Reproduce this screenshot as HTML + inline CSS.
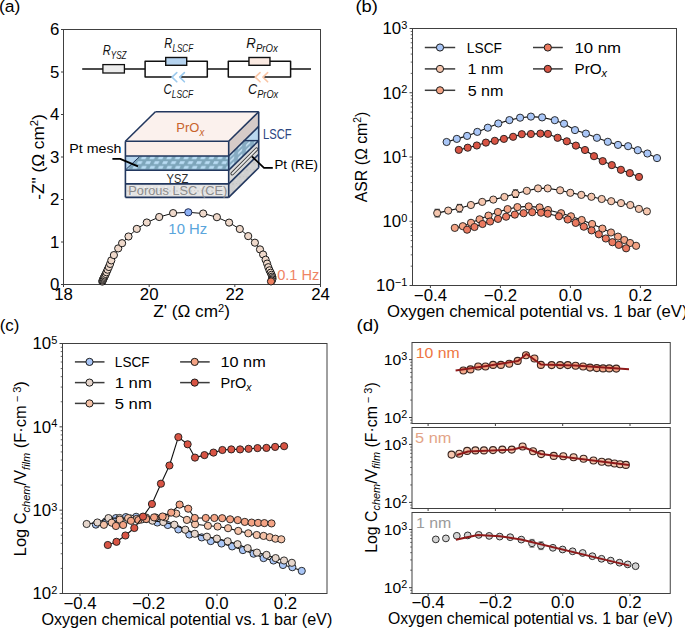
<!DOCTYPE html>
<html><head><meta charset="utf-8"><style>
html,body{margin:0;padding:0;background:#fff;overflow:hidden;}
svg{display:block;font-family:"Liberation Sans", sans-serif;}
</style></head><body>
<svg width="685" height="628" viewBox="0 0 685 628">
<rect width="685" height="628" fill="#fff"/>
<text id="pa" transform="translate(-1.06,12.3) scale(1.0618,1)" font-size="16.5" text-anchor="start" fill="#000">(a)</text>
<rect x="63.5" y="29.5" width="257" height="255" fill="none" stroke="#404040" stroke-width="1.0" />
<line x1="61" y1="284.5" x2="63.5" y2="284.5" stroke="#404040" stroke-width="1.0" />
<text id="ya0" transform="translate(59.3,290.4) scale(1.0200,1)" font-size="16.5" text-anchor="end" fill="#000">0</text>
<line x1="61" y1="242" x2="63.5" y2="242" stroke="#404040" stroke-width="1.0" />
<text id="ya1" transform="translate(59.3,247.9) scale(1.0200,1)" font-size="16.5" text-anchor="end" fill="#000">1</text>
<line x1="61" y1="199.5" x2="63.5" y2="199.5" stroke="#404040" stroke-width="1.0" />
<text id="ya2" transform="translate(59.3,205.4) scale(1.0200,1)" font-size="16.5" text-anchor="end" fill="#000">2</text>
<line x1="61" y1="157" x2="63.5" y2="157" stroke="#404040" stroke-width="1.0" />
<text id="ya3" transform="translate(59.3,162.9) scale(1.0200,1)" font-size="16.5" text-anchor="end" fill="#000">3</text>
<line x1="61" y1="114.5" x2="63.5" y2="114.5" stroke="#404040" stroke-width="1.0" />
<text id="ya4" transform="translate(59.3,120.4) scale(1.0200,1)" font-size="16.5" text-anchor="end" fill="#000">4</text>
<line x1="61" y1="72" x2="63.5" y2="72" stroke="#404040" stroke-width="1.0" />
<text id="ya5" transform="translate(59.3,77.9) scale(1.0200,1)" font-size="16.5" text-anchor="end" fill="#000">5</text>
<line x1="61" y1="29.5" x2="63.5" y2="29.5" stroke="#404040" stroke-width="1.0" />
<text id="ya6" transform="translate(59.3,35.4) scale(1.0200,1)" font-size="16.5" text-anchor="end" fill="#000">6</text>
<line x1="63.5" y1="284.5" x2="63.5" y2="287" stroke="#404040" stroke-width="1.0" />
<text id="xa18" transform="translate(63.5,299.9) scale(1.0200,1)" font-size="16.5" text-anchor="middle" fill="#000">18</text>
<line x1="149.17" y1="284.5" x2="149.17" y2="287" stroke="#404040" stroke-width="1.0" />
<text id="xa20" transform="translate(149.17,299.9) scale(1.0200,1)" font-size="16.5" text-anchor="middle" fill="#000">20</text>
<line x1="234.83" y1="284.5" x2="234.83" y2="287" stroke="#404040" stroke-width="1.0" />
<text id="xa22" transform="translate(234.83,299.9) scale(1.0200,1)" font-size="16.5" text-anchor="middle" fill="#000">22</text>
<line x1="320.5" y1="284.5" x2="320.5" y2="287" stroke="#404040" stroke-width="1.0" />
<text id="xa24" transform="translate(320.5,299.9) scale(1.0200,1)" font-size="16.5" text-anchor="middle" fill="#000">24</text>
<text id="ylab_a" transform="translate(43.8,157) rotate(-90) scale(1.0627,1)" font-size="16.2" text-anchor="middle" fill="#000">-Z" (Ω cm<tspan font-size="10.5" dy="-5.5">2</tspan><tspan dy="5.5">)</tspan></text>
<text id="xlab_a" transform="translate(191.52,317.2) scale(1.0606,1)" font-size="16.2" text-anchor="middle" fill="#000">Z' (Ω cm<tspan font-size="10.5" dy="-5.5">2</tspan><tspan dy="5.5">)</tspan></text>
<line x1="82.2" y1="69" x2="145.1" y2="69" stroke="#111" stroke-width="1.5" />
<rect x="102.9" y="64.6" width="21.5" height="8.4" fill="#ececec" stroke="#111" stroke-width="1.3" />
<polyline points="145.1,69 145.1,61.3 207.3,61.3 207.3,69" fill="none" stroke="#111" stroke-width="1.5" stroke-linejoin="round" />
<polyline points="145.1,69 145.1,76.9 172,76.9" fill="none" stroke="#111" stroke-width="1.5" stroke-linejoin="round" />
<polyline points="179.7,76.9 207.3,76.9 207.3,69" fill="none" stroke="#111" stroke-width="1.5" stroke-linejoin="round" />
<rect x="165.7" y="57.5" width="21" height="7.8" fill="#b5d3ef" stroke="#111" stroke-width="1.4" />
<polyline points="176.8,72.6 172,77.1 176.8,81.8" fill="none" stroke="#9ccaee" stroke-width="1.6" stroke-linejoin="round" stroke-linecap="round"/>
<polyline points="184.4,72.6 179.7,77.1 184.4,81.8" fill="none" stroke="#9ccaee" stroke-width="1.6" stroke-linejoin="round" stroke-linecap="round"/>
<polyline points="228.3,69 228.3,61.3 290.6,61.3 290.6,69" fill="none" stroke="#111" stroke-width="1.5" stroke-linejoin="round" />
<polyline points="228.3,69 228.3,76.9 255.25,76.9" fill="none" stroke="#111" stroke-width="1.5" stroke-linejoin="round" />
<polyline points="262.95,76.9 290.6,76.9 290.6,69" fill="none" stroke="#111" stroke-width="1.5" stroke-linejoin="round" />
<rect x="248.95" y="57.5" width="21" height="7.8" fill="#fbeae2" stroke="#111" stroke-width="1.4" />
<polyline points="260.05,72.6 255.25,77.1 260.05,81.8" fill="none" stroke="#f9c5a5" stroke-width="1.6" stroke-linejoin="round" stroke-linecap="round"/>
<polyline points="267.65,72.6 262.95,77.1 267.65,81.8" fill="none" stroke="#f9c5a5" stroke-width="1.6" stroke-linejoin="round" stroke-linecap="round"/>
<line x1="207.3" y1="69" x2="228.3" y2="69" stroke="#111" stroke-width="1.5" />
<line x1="290.6" y1="69" x2="311" y2="69" stroke="#111" stroke-width="1.5" />
<text id="rysz" transform="translate(102.76,54.6) scale(0.7948,1)" font-size="14" text-anchor="start" fill="#111" style="font-style:italic">R<tspan font-size="10.2" dy="4.4">YSZ</tspan></text>
<text id="rlscf" transform="translate(164.35,47.6) scale(0.7954,1)" font-size="14" text-anchor="start" fill="#111" style="font-style:italic">R<tspan font-size="10.2" dy="4.4">LSCF</tspan></text>
<text id="rprox" transform="translate(246.36,48) scale(0.9443,1)" font-size="14" text-anchor="start" fill="#111" style="font-style:italic">R<tspan font-size="10.2" dy="4.4">PrOx</tspan></text>
<text id="clscf" transform="translate(163.45,93.9) scale(0.8234,1)" font-size="14" text-anchor="start" fill="#111" style="font-style:italic">C<tspan font-size="10.2" dy="4.4">LSCF</tspan></text>
<text id="cprox" transform="translate(248,93.9) scale(0.9073,1)" font-size="14" text-anchor="start" fill="#111" style="font-style:italic">C<tspan font-size="10.2" dy="4.4">PrOx</tspan></text>
<defs><pattern id="hatch" patternUnits="userSpaceOnUse" width="8.47" height="9.5" patternTransform="translate(148.07,156.2)"><rect width="8.47" height="9.5" fill="#7da5ba"/><path d="M1.23,3 L5.83,3 L7.23,0.2 L2.63,0.2 Z M-3,7.8 L1.6,7.8 L3,4.9 L-1.6,4.9 Z M5.47,7.8 L10.07,7.8 L11.47,4.9 L6.87,4.9 Z" fill="#b9dcf4"/></pattern><pattern id="speck" patternUnits="userSpaceOnUse" width="7" height="7"><rect width="7" height="7" fill="#e4e4e4"/><circle cx="2" cy="2" r="1" fill="#d2d2d2"/><circle cx="5" cy="5.2" r="0.9" fill="#f3f3f3"/><circle cx="5.5" cy="1.5" r="0.6" fill="#cfcfcf"/></pattern></defs>
<polygon points="125.4,141.3 155.4,111.70000000000002 258.7,111.70000000000002 228.7,141.3" fill="#fbf1ed"/>
<rect x="125.4" y="141.3" width="103.3" height="14.7" fill="#fbeee9" stroke="none" stroke-width="1" />
<rect x="125.4" y="156" width="103.3" height="14.2" fill="url(#hatch)" stroke="none" stroke-width="1" />
<polygon points="125.4,156.0 139.4,156.0 125.4,170.2" fill="#b6d5ee"/>
<line x1="126.2" y1="169.2" x2="139.2" y2="157" stroke="#22375e" stroke-width="1.0" />
<rect x="125.4" y="170.2" width="103.3" height="13.7" fill="#ffffff" stroke="none" stroke-width="1" />
<rect x="125.4" y="183.9" width="103.3" height="13.5" fill="url(#speck)" stroke="none" stroke-width="1" />
<polygon points="228.7,141.3 258.7,111.70000000000002 258.7,126.4 228.7,156.0" fill="#d6cbc8"/>
<polygon points="228.7,156.0 258.7,126.4 258.7,140.6 228.7,170.2" fill="#b9d7ee"/>
<defs><pattern id="hatchs" patternUnits="userSpaceOnUse" width="8" height="5" patternTransform="translate(229,170) skewY(-44)"><rect width="8" height="5" fill="#86abc2"/><rect x="1" y="1.2" width="4.2" height="2.2" fill="#c6e0f2"/></pattern></defs>
<polygon points="228.7,156.0 243.6,140.6 258.7,140.6 228.7,170.2" fill="url(#hatchs)"/>
<line x1="243.6" y1="140.6" x2="258.7" y2="140.6" stroke="#22375e" stroke-width="1.4" />
<polygon points="228.7,170.2 258.7,140.6 258.7,154.3 228.7,183.9" fill="#dadada"/>
<polygon points="228.7,183.9 258.7,154.3 258.7,167.8 228.7,197.4" fill="url(#speck)"/>
<polygon points="228.7,183.9 258.7,154.3 258.7,167.8 228.7,197.4" fill="#b8b8b8" opacity="0.45"/>
<line x1="232.3" y1="173.6" x2="256.6" y2="149.2" stroke="#3a3a3a" stroke-width="3.6" stroke-linecap="round"/>
<line x1="232.3" y1="173.6" x2="256.6" y2="149.2" stroke="#e8e8e8" stroke-width="1.8" stroke-linecap="round"/>
<line x1="125.4" y1="141.3" x2="228.7" y2="141.3" stroke="#22375e" stroke-width="1.6" />
<line x1="228.7" y1="141.3" x2="258.7" y2="111.7" stroke="#22375e" stroke-width="1.6" />
<line x1="125.4" y1="156" x2="228.7" y2="156" stroke="#22375e" stroke-width="1.6" />
<line x1="228.7" y1="156" x2="258.7" y2="126.4" stroke="#22375e" stroke-width="1.6" />
<line x1="125.4" y1="170.2" x2="228.7" y2="170.2" stroke="#22375e" stroke-width="1.6" />
<line x1="228.7" y1="170.2" x2="258.7" y2="140.6" stroke="#22375e" stroke-width="1.6" />
<line x1="125.4" y1="183.9" x2="228.7" y2="183.9" stroke="#22375e" stroke-width="1.6" />
<line x1="228.7" y1="183.9" x2="258.7" y2="154.3" stroke="#22375e" stroke-width="1.6" />
<line x1="125.4" y1="197.4" x2="228.7" y2="197.4" stroke="#22375e" stroke-width="1.6" />
<line x1="228.7" y1="197.4" x2="258.7" y2="167.8" stroke="#22375e" stroke-width="1.6" />
<line x1="155.4" y1="111.7" x2="258.7" y2="111.7" stroke="#22375e" stroke-width="1.6" />
<line x1="125.4" y1="141.3" x2="155.4" y2="111.7" stroke="#22375e" stroke-width="1.6" />
<line x1="125.4" y1="141.3" x2="125.4" y2="197.4" stroke="#22375e" stroke-width="1.6" />
<line x1="228.7" y1="141.3" x2="228.7" y2="197.4" stroke="#22375e" stroke-width="1.6" />
<line x1="258.7" y1="111.7" x2="258.7" y2="167.8" stroke="#22375e" stroke-width="1.6" />
<text id="t_prox" transform="translate(176.37,132.3) scale(0.9605,1)" font-size="13.5" text-anchor="start" fill="#c8632a">PrO<tspan font-size="10" style="font-style:italic" dy="3.5">x</tspan></text>
<text id="t_lscf" transform="translate(263,138.8) scale(0.7905,1)" font-size="14.2" text-anchor="start" fill="#2a4580">LSCF</text>
<text id="t_ysz" transform="translate(166.62,182.5) scale(0.8350,1)" font-size="13.3" text-anchor="start" fill="#2a2a2a">YSZ</text>
<text id="t_porous" transform="translate(128.19,195.1) scale(1.0032,1)" font-size="12.8" text-anchor="start" fill="#8c8c8c">Porous LSC (CE)</text>
<text id="t_ptmesh" transform="translate(69.36,153.2) scale(1.0438,1)" font-size="13.6" text-anchor="start" fill="#000">Pt mesh</text>
<text id="t_ptre" transform="translate(274.39,169.3) scale(1.0080,1)" font-size="13.2" text-anchor="start" fill="#000">Pt (RE)</text>
<polyline points="112.4,158.8 120.2,158.8 138,166.3" fill="none" stroke="#000" stroke-width="1.8" stroke-linejoin="round" />
<polyline points="272.8,167.8 264,167.8 252,156.5" fill="none" stroke="#000" stroke-width="1.8" stroke-linejoin="round" />
<polyline points="102.3,281.6 102.6,280.6 103,279.7 103.4,278.8 103.9,277.8 104.4,276.7 105,275.5 105.7,274 106.5,272.2 107.6,269.7 108.8,267 110.1,263.9 111.3,260.4 113.9,255.1 118.2,248.4 122.1,243.2 128.5,236.5 136.8,228.9 146.8,222.5 159.2,217 173.1,213.1 188.3,212.3 203.2,213.5 216.9,217.2 229.1,222.6 239.8,229 248.2,236.1 254.9,242.7 260,249.4 263.1,254.5 265.6,259.7 267.1,263.6 268.3,267.2 269.5,270.3 270.7,272.7 271.6,274.8 272.2,276.6 272.5,278.1 272.3,279.4 271.8,280.5 271,281.4" fill="none" stroke="#111" stroke-width="1.0" stroke-linejoin="round" />
<circle cx="102.3" cy="281.6" r="3.6" fill="#efd9cb" stroke="#1a1a1a" stroke-width="1.0"/>
<circle cx="102.6" cy="280.6" r="3.6" fill="#efd9cb" stroke="#1a1a1a" stroke-width="1.0"/>
<circle cx="103" cy="279.7" r="3.6" fill="#efd9cb" stroke="#1a1a1a" stroke-width="1.0"/>
<circle cx="103.4" cy="278.8" r="3.6" fill="#efd9cb" stroke="#1a1a1a" stroke-width="1.0"/>
<circle cx="103.9" cy="277.8" r="3.6" fill="#efd9cb" stroke="#1a1a1a" stroke-width="1.0"/>
<circle cx="104.4" cy="276.7" r="3.6" fill="#efd9cb" stroke="#1a1a1a" stroke-width="1.0"/>
<circle cx="105" cy="275.5" r="3.6" fill="#efd9cb" stroke="#1a1a1a" stroke-width="1.0"/>
<circle cx="105.7" cy="274" r="3.6" fill="#efd9cb" stroke="#1a1a1a" stroke-width="1.0"/>
<circle cx="106.5" cy="272.2" r="3.6" fill="#efd9cb" stroke="#1a1a1a" stroke-width="1.0"/>
<circle cx="107.6" cy="269.7" r="3.6" fill="#efd9cb" stroke="#1a1a1a" stroke-width="1.0"/>
<circle cx="108.8" cy="267" r="3.6" fill="#efd9cb" stroke="#1a1a1a" stroke-width="1.0"/>
<circle cx="110.1" cy="263.9" r="3.6" fill="#efd9cb" stroke="#1a1a1a" stroke-width="1.0"/>
<circle cx="111.3" cy="260.4" r="3.6" fill="#efd9cb" stroke="#1a1a1a" stroke-width="1.0"/>
<circle cx="113.9" cy="255.1" r="3.6" fill="#efd9cb" stroke="#1a1a1a" stroke-width="1.0"/>
<circle cx="118.2" cy="248.4" r="3.6" fill="#efd9cb" stroke="#1a1a1a" stroke-width="1.0"/>
<circle cx="122.1" cy="243.2" r="3.6" fill="#efd9cb" stroke="#1a1a1a" stroke-width="1.0"/>
<circle cx="128.5" cy="236.5" r="3.6" fill="#efd9cb" stroke="#1a1a1a" stroke-width="1.0"/>
<circle cx="136.8" cy="228.9" r="3.6" fill="#efd9cb" stroke="#1a1a1a" stroke-width="1.0"/>
<circle cx="146.8" cy="222.5" r="3.6" fill="#efd9cb" stroke="#1a1a1a" stroke-width="1.0"/>
<circle cx="159.2" cy="217" r="3.6" fill="#efd9cb" stroke="#1a1a1a" stroke-width="1.0"/>
<circle cx="173.1" cy="213.1" r="3.6" fill="#efd9cb" stroke="#1a1a1a" stroke-width="1.0"/>
<circle cx="203.2" cy="213.5" r="3.6" fill="#efd9cb" stroke="#1a1a1a" stroke-width="1.0"/>
<circle cx="216.9" cy="217.2" r="3.6" fill="#efd9cb" stroke="#1a1a1a" stroke-width="1.0"/>
<circle cx="229.1" cy="222.6" r="3.6" fill="#efd9cb" stroke="#1a1a1a" stroke-width="1.0"/>
<circle cx="239.8" cy="229" r="3.6" fill="#efd9cb" stroke="#1a1a1a" stroke-width="1.0"/>
<circle cx="248.2" cy="236.1" r="3.6" fill="#efd9cb" stroke="#1a1a1a" stroke-width="1.0"/>
<circle cx="254.9" cy="242.7" r="3.6" fill="#efd9cb" stroke="#1a1a1a" stroke-width="1.0"/>
<circle cx="260" cy="249.4" r="3.6" fill="#efd9cb" stroke="#1a1a1a" stroke-width="1.0"/>
<circle cx="263.1" cy="254.5" r="3.6" fill="#efd9cb" stroke="#1a1a1a" stroke-width="1.0"/>
<circle cx="265.6" cy="259.7" r="3.6" fill="#efd9cb" stroke="#1a1a1a" stroke-width="1.0"/>
<circle cx="267.1" cy="263.6" r="3.6" fill="#efd9cb" stroke="#1a1a1a" stroke-width="1.0"/>
<circle cx="268.3" cy="267.2" r="3.6" fill="#efd9cb" stroke="#1a1a1a" stroke-width="1.0"/>
<circle cx="269.5" cy="270.3" r="3.6" fill="#efd9cb" stroke="#1a1a1a" stroke-width="1.0"/>
<circle cx="270.7" cy="272.7" r="3.6" fill="#efd9cb" stroke="#1a1a1a" stroke-width="1.0"/>
<circle cx="271.6" cy="274.8" r="3.6" fill="#efd9cb" stroke="#1a1a1a" stroke-width="1.0"/>
<circle cx="272.2" cy="276.6" r="3.6" fill="#efd9cb" stroke="#1a1a1a" stroke-width="1.0"/>
<circle cx="272.5" cy="278.1" r="3.6" fill="#efd9cb" stroke="#1a1a1a" stroke-width="1.0"/>
<circle cx="272.3" cy="279.4" r="3.6" fill="#efd9cb" stroke="#1a1a1a" stroke-width="1.0"/>
<circle cx="271.8" cy="280.5" r="3.6" fill="#efd9cb" stroke="#1a1a1a" stroke-width="1.0"/>
<circle cx="188.3" cy="212.3" r="3.6" fill="#8cb0f4" stroke="#1d2a55" stroke-width="1.0"/>
<circle cx="271" cy="281.4" r="3.6" fill="#ee7f5e" stroke="#1a1a1a" stroke-width="1.0"/>
<text id="t_10hz" transform="translate(168.37,233.7) scale(0.9916,1)" font-size="15" text-anchor="start" fill="#5aa5dc">10 Hz</text>
<text id="t_01hz" transform="translate(277.16,280) scale(0.9757,1)" font-size="15" text-anchor="start" fill="#ef8464">0.1 Hz</text>
<text id="pb" transform="translate(355.52,11.8) scale(1.1103,1)" font-size="16.5" text-anchor="start" fill="#000">(b)</text>
<rect x="412.5" y="28.5" width="264" height="257" fill="none" stroke="#404040" stroke-width="1.0" />
<line x1="409.5" y1="285.5" x2="412.5" y2="285.5" stroke="#404040" stroke-width="1.0" />
<line x1="410.7" y1="266.16" x2="412.5" y2="266.16" stroke="#404040" stroke-width="0.8" />
<line x1="410.7" y1="254.84" x2="412.5" y2="254.84" stroke="#404040" stroke-width="0.8" />
<line x1="410.7" y1="246.82" x2="412.5" y2="246.82" stroke="#404040" stroke-width="0.8" />
<line x1="410.7" y1="240.59" x2="412.5" y2="240.59" stroke="#404040" stroke-width="0.8" />
<line x1="410.7" y1="235.5" x2="412.5" y2="235.5" stroke="#404040" stroke-width="0.8" />
<line x1="410.7" y1="231.2" x2="412.5" y2="231.2" stroke="#404040" stroke-width="0.8" />
<line x1="410.7" y1="227.48" x2="412.5" y2="227.48" stroke="#404040" stroke-width="0.8" />
<line x1="410.7" y1="224.19" x2="412.5" y2="224.19" stroke="#404040" stroke-width="0.8" />
<line x1="409.5" y1="221.25" x2="412.5" y2="221.25" stroke="#404040" stroke-width="1.0" />
<line x1="410.7" y1="201.91" x2="412.5" y2="201.91" stroke="#404040" stroke-width="0.8" />
<line x1="410.7" y1="190.59" x2="412.5" y2="190.59" stroke="#404040" stroke-width="0.8" />
<line x1="410.7" y1="182.57" x2="412.5" y2="182.57" stroke="#404040" stroke-width="0.8" />
<line x1="410.7" y1="176.34" x2="412.5" y2="176.34" stroke="#404040" stroke-width="0.8" />
<line x1="410.7" y1="171.25" x2="412.5" y2="171.25" stroke="#404040" stroke-width="0.8" />
<line x1="410.7" y1="166.95" x2="412.5" y2="166.95" stroke="#404040" stroke-width="0.8" />
<line x1="410.7" y1="163.23" x2="412.5" y2="163.23" stroke="#404040" stroke-width="0.8" />
<line x1="410.7" y1="159.94" x2="412.5" y2="159.94" stroke="#404040" stroke-width="0.8" />
<line x1="409.5" y1="157" x2="412.5" y2="157" stroke="#404040" stroke-width="1.0" />
<line x1="410.7" y1="137.66" x2="412.5" y2="137.66" stroke="#404040" stroke-width="0.8" />
<line x1="410.7" y1="126.34" x2="412.5" y2="126.34" stroke="#404040" stroke-width="0.8" />
<line x1="410.7" y1="118.32" x2="412.5" y2="118.32" stroke="#404040" stroke-width="0.8" />
<line x1="410.7" y1="112.09" x2="412.5" y2="112.09" stroke="#404040" stroke-width="0.8" />
<line x1="410.7" y1="107" x2="412.5" y2="107" stroke="#404040" stroke-width="0.8" />
<line x1="410.7" y1="102.7" x2="412.5" y2="102.7" stroke="#404040" stroke-width="0.8" />
<line x1="410.7" y1="98.98" x2="412.5" y2="98.98" stroke="#404040" stroke-width="0.8" />
<line x1="410.7" y1="95.69" x2="412.5" y2="95.69" stroke="#404040" stroke-width="0.8" />
<line x1="409.5" y1="92.75" x2="412.5" y2="92.75" stroke="#404040" stroke-width="1.0" />
<line x1="410.7" y1="73.41" x2="412.5" y2="73.41" stroke="#404040" stroke-width="0.8" />
<line x1="410.7" y1="62.09" x2="412.5" y2="62.09" stroke="#404040" stroke-width="0.8" />
<line x1="410.7" y1="54.07" x2="412.5" y2="54.07" stroke="#404040" stroke-width="0.8" />
<line x1="410.7" y1="47.84" x2="412.5" y2="47.84" stroke="#404040" stroke-width="0.8" />
<line x1="410.7" y1="42.75" x2="412.5" y2="42.75" stroke="#404040" stroke-width="0.8" />
<line x1="410.7" y1="38.45" x2="412.5" y2="38.45" stroke="#404040" stroke-width="0.8" />
<line x1="410.7" y1="34.73" x2="412.5" y2="34.73" stroke="#404040" stroke-width="0.8" />
<line x1="410.7" y1="31.44" x2="412.5" y2="31.44" stroke="#404040" stroke-width="0.8" />
<line x1="409.5" y1="28.5" x2="412.5" y2="28.5" stroke="#404040" stroke-width="1.0" />
<line x1="430.4" y1="285.5" x2="430.4" y2="288" stroke="#404040" stroke-width="1.0" />
<line x1="500.4" y1="285.5" x2="500.4" y2="288" stroke="#404040" stroke-width="1.0" />
<line x1="570.4" y1="285.5" x2="570.4" y2="288" stroke="#404040" stroke-width="1.0" />
<line x1="640.4" y1="285.5" x2="640.4" y2="288" stroke="#404040" stroke-width="1.0" />
<text id="yb-1" transform="translate(407.3,291.3) scale(1.0200,1)" font-size="16.5" text-anchor="end" fill="#000">10<tspan font-size="10.8" dy="-5.4">−1</tspan></text>
<text id="yb0" transform="translate(407.3,227.05) scale(1.0200,1)" font-size="16.5" text-anchor="end" fill="#000">10<tspan font-size="10.8" dy="-5.4">0</tspan></text>
<text id="yb1" transform="translate(407.3,162.8) scale(1.0200,1)" font-size="16.5" text-anchor="end" fill="#000">10<tspan font-size="10.8" dy="-5.4">1</tspan></text>
<text id="yb2" transform="translate(407.3,98.55) scale(1.0200,1)" font-size="16.5" text-anchor="end" fill="#000">10<tspan font-size="10.8" dy="-5.4">2</tspan></text>
<text id="yb3" transform="translate(407.3,34.3) scale(1.0200,1)" font-size="16.5" text-anchor="end" fill="#000">10<tspan font-size="10.8" dy="-5.4">3</tspan></text>
<text id="xb-0.4" transform="translate(430.4,300.7) scale(1.0700,1)" font-size="15.7" text-anchor="middle" fill="#000">−0.4</text>
<text id="xb-0.2" transform="translate(500.4,300.7) scale(1.0700,1)" font-size="15.7" text-anchor="middle" fill="#000">−0.2</text>
<text id="xb0" transform="translate(570.4,300.7) scale(1.0700,1)" font-size="15.7" text-anchor="middle" fill="#000">0.0</text>
<text id="xb0.2" transform="translate(640.4,300.7) scale(1.0700,1)" font-size="15.7" text-anchor="middle" fill="#000">0.2</text>
<text id="ylab_b" transform="translate(366.5,157.03) rotate(-90) scale(0.9774,1)" font-size="16.2" text-anchor="middle" fill="#000">ASR (Ω cm<tspan font-size="10.5" dy="-5.5">2</tspan><tspan dy="5.5">)</tspan></text>
<text id="xlab_b" transform="translate(387,317.1) scale(1.0310,1)" font-size="16.2" text-anchor="start" fill="#000">Oxygen chemical potential vs. 1 bar (eV)</text>
<polyline points="446.6,142 456.8,138.9 467.1,135.9 477.3,131.9 487.8,127.7 498.3,123.5 509.4,120.1 520.1,117.7 530.9,116.6 542.1,117.4 554.8,120.2 564,123.7 575,130.1 585.9,133.6 596.9,137.8 607.8,141.8 618,144.9 628.1,146.2 637.8,150.2 647.4,153.5 657,158.1" fill="none" stroke="#111" stroke-width="1.1" stroke-linejoin="round" />
<circle cx="446.6" cy="142" r="3.6" fill="#a9c6f7" stroke="#1a1a1a" stroke-width="0.9"/>
<circle cx="456.8" cy="138.9" r="3.6" fill="#a9c6f7" stroke="#1a1a1a" stroke-width="0.9"/>
<circle cx="467.1" cy="135.9" r="3.6" fill="#a9c6f7" stroke="#1a1a1a" stroke-width="0.9"/>
<circle cx="477.3" cy="131.9" r="3.6" fill="#a9c6f7" stroke="#1a1a1a" stroke-width="0.9"/>
<circle cx="487.8" cy="127.7" r="3.6" fill="#a9c6f7" stroke="#1a1a1a" stroke-width="0.9"/>
<circle cx="498.3" cy="123.5" r="3.6" fill="#a9c6f7" stroke="#1a1a1a" stroke-width="0.9"/>
<circle cx="509.4" cy="120.1" r="3.6" fill="#a9c6f7" stroke="#1a1a1a" stroke-width="0.9"/>
<circle cx="520.1" cy="117.7" r="3.6" fill="#a9c6f7" stroke="#1a1a1a" stroke-width="0.9"/>
<circle cx="530.9" cy="116.6" r="3.6" fill="#a9c6f7" stroke="#1a1a1a" stroke-width="0.9"/>
<circle cx="542.1" cy="117.4" r="3.6" fill="#a9c6f7" stroke="#1a1a1a" stroke-width="0.9"/>
<circle cx="554.8" cy="120.2" r="3.6" fill="#a9c6f7" stroke="#1a1a1a" stroke-width="0.9"/>
<circle cx="564" cy="123.7" r="3.6" fill="#a9c6f7" stroke="#1a1a1a" stroke-width="0.9"/>
<circle cx="575" cy="130.1" r="3.6" fill="#a9c6f7" stroke="#1a1a1a" stroke-width="0.9"/>
<circle cx="585.9" cy="133.6" r="3.6" fill="#a9c6f7" stroke="#1a1a1a" stroke-width="0.9"/>
<circle cx="596.9" cy="137.8" r="3.6" fill="#a9c6f7" stroke="#1a1a1a" stroke-width="0.9"/>
<circle cx="607.8" cy="141.8" r="3.6" fill="#a9c6f7" stroke="#1a1a1a" stroke-width="0.9"/>
<circle cx="618" cy="144.9" r="3.6" fill="#a9c6f7" stroke="#1a1a1a" stroke-width="0.9"/>
<circle cx="628.1" cy="146.2" r="3.6" fill="#a9c6f7" stroke="#1a1a1a" stroke-width="0.9"/>
<circle cx="637.8" cy="150.2" r="3.6" fill="#a9c6f7" stroke="#1a1a1a" stroke-width="0.9"/>
<circle cx="647.4" cy="153.5" r="3.6" fill="#a9c6f7" stroke="#1a1a1a" stroke-width="0.9"/>
<circle cx="657" cy="158.1" r="3.6" fill="#a9c6f7" stroke="#1a1a1a" stroke-width="0.9"/>
<polyline points="437.2,213.1 448.2,210.6 459.5,208.2 470.9,205 482.2,201.9 493.3,199.6 504.4,197 515.5,193.7 526.8,190.8 538,188.4 547.7,188.4 560.1,190.3 570.3,192.8 581.3,194.9 591.4,196.8 601.7,199 611.2,201.2 621,203.1 630.3,205 638.9,208.9 646.9,211.4" fill="none" stroke="#111" stroke-width="1.1" stroke-linejoin="round" />
<line x1="434.6" y1="209.3" x2="439.8" y2="209.3" stroke="#111" stroke-width="1.0" />
<line x1="434.6" y1="216.9" x2="439.8" y2="216.9" stroke="#111" stroke-width="1.0" />
<line x1="437.2" y1="209.3" x2="437.2" y2="216.9" stroke="#111" stroke-width="1.0" />
<line x1="456.9" y1="204.4" x2="462.1" y2="204.4" stroke="#111" stroke-width="1.0" />
<line x1="456.9" y1="212" x2="462.1" y2="212" stroke="#111" stroke-width="1.0" />
<line x1="459.5" y1="204.4" x2="459.5" y2="212" stroke="#111" stroke-width="1.0" />
<line x1="512.9" y1="189.9" x2="518.1" y2="189.9" stroke="#111" stroke-width="1.0" />
<line x1="512.9" y1="197.5" x2="518.1" y2="197.5" stroke="#111" stroke-width="1.0" />
<line x1="515.5" y1="189.9" x2="515.5" y2="197.5" stroke="#111" stroke-width="1.0" />
<circle cx="437.2" cy="213.1" r="3.6" fill="#f5c6ae" stroke="#1a1a1a" stroke-width="0.9"/>
<circle cx="448.2" cy="210.6" r="3.6" fill="#f5c6ae" stroke="#1a1a1a" stroke-width="0.9"/>
<circle cx="459.5" cy="208.2" r="3.6" fill="#f5c6ae" stroke="#1a1a1a" stroke-width="0.9"/>
<circle cx="470.9" cy="205" r="3.6" fill="#f5c6ae" stroke="#1a1a1a" stroke-width="0.9"/>
<circle cx="482.2" cy="201.9" r="3.6" fill="#f5c6ae" stroke="#1a1a1a" stroke-width="0.9"/>
<circle cx="493.3" cy="199.6" r="3.6" fill="#f5c6ae" stroke="#1a1a1a" stroke-width="0.9"/>
<circle cx="504.4" cy="197" r="3.6" fill="#f5c6ae" stroke="#1a1a1a" stroke-width="0.9"/>
<circle cx="515.5" cy="193.7" r="3.6" fill="#f5c6ae" stroke="#1a1a1a" stroke-width="0.9"/>
<circle cx="526.8" cy="190.8" r="3.6" fill="#f5c6ae" stroke="#1a1a1a" stroke-width="0.9"/>
<circle cx="538" cy="188.4" r="3.6" fill="#f5c6ae" stroke="#1a1a1a" stroke-width="0.9"/>
<circle cx="547.7" cy="188.4" r="3.6" fill="#f5c6ae" stroke="#1a1a1a" stroke-width="0.9"/>
<circle cx="560.1" cy="190.3" r="3.6" fill="#f5c6ae" stroke="#1a1a1a" stroke-width="0.9"/>
<circle cx="570.3" cy="192.8" r="3.6" fill="#f5c6ae" stroke="#1a1a1a" stroke-width="0.9"/>
<circle cx="581.3" cy="194.9" r="3.6" fill="#f5c6ae" stroke="#1a1a1a" stroke-width="0.9"/>
<circle cx="591.4" cy="196.8" r="3.6" fill="#f5c6ae" stroke="#1a1a1a" stroke-width="0.9"/>
<circle cx="601.7" cy="199" r="3.6" fill="#f5c6ae" stroke="#1a1a1a" stroke-width="0.9"/>
<circle cx="611.2" cy="201.2" r="3.6" fill="#f5c6ae" stroke="#1a1a1a" stroke-width="0.9"/>
<circle cx="621" cy="203.1" r="3.6" fill="#f5c6ae" stroke="#1a1a1a" stroke-width="0.9"/>
<circle cx="630.3" cy="205" r="3.6" fill="#f5c6ae" stroke="#1a1a1a" stroke-width="0.9"/>
<circle cx="638.9" cy="208.9" r="3.6" fill="#f5c6ae" stroke="#1a1a1a" stroke-width="0.9"/>
<circle cx="646.9" cy="211.4" r="3.6" fill="#f5c6ae" stroke="#1a1a1a" stroke-width="0.9"/>
<polyline points="454.8,227.9 462.8,226.2 471,222.8 479.6,219.3 488.5,215.6 497.9,212 507.6,209.1 517.4,207.1 528.7,206.4 539.6,207.4 548,210 561.1,213.2 571,216.3 581.7,220 592.1,224 602.4,228.6 611,232.5 618,236.6 624.3,240 630.1,243 636.1,245.8" fill="none" stroke="#111" stroke-width="1.1" stroke-linejoin="round" />
<circle cx="454.8" cy="227.9" r="3.6" fill="#f4a384" stroke="#1a1a1a" stroke-width="0.9"/>
<circle cx="462.8" cy="226.2" r="3.6" fill="#f4a384" stroke="#1a1a1a" stroke-width="0.9"/>
<circle cx="471" cy="222.8" r="3.6" fill="#f4a384" stroke="#1a1a1a" stroke-width="0.9"/>
<circle cx="479.6" cy="219.3" r="3.6" fill="#f4a384" stroke="#1a1a1a" stroke-width="0.9"/>
<circle cx="488.5" cy="215.6" r="3.6" fill="#f4a384" stroke="#1a1a1a" stroke-width="0.9"/>
<circle cx="497.9" cy="212" r="3.6" fill="#f4a384" stroke="#1a1a1a" stroke-width="0.9"/>
<circle cx="507.6" cy="209.1" r="3.6" fill="#f4a384" stroke="#1a1a1a" stroke-width="0.9"/>
<circle cx="517.4" cy="207.1" r="3.6" fill="#f4a384" stroke="#1a1a1a" stroke-width="0.9"/>
<circle cx="528.7" cy="206.4" r="3.6" fill="#f4a384" stroke="#1a1a1a" stroke-width="0.9"/>
<circle cx="539.6" cy="207.4" r="3.6" fill="#f4a384" stroke="#1a1a1a" stroke-width="0.9"/>
<circle cx="548" cy="210" r="3.6" fill="#f4a384" stroke="#1a1a1a" stroke-width="0.9"/>
<circle cx="561.1" cy="213.2" r="3.6" fill="#f4a384" stroke="#1a1a1a" stroke-width="0.9"/>
<circle cx="571" cy="216.3" r="3.6" fill="#f4a384" stroke="#1a1a1a" stroke-width="0.9"/>
<circle cx="581.7" cy="220" r="3.6" fill="#f4a384" stroke="#1a1a1a" stroke-width="0.9"/>
<circle cx="592.1" cy="224" r="3.6" fill="#f4a384" stroke="#1a1a1a" stroke-width="0.9"/>
<circle cx="602.4" cy="228.6" r="3.6" fill="#f4a384" stroke="#1a1a1a" stroke-width="0.9"/>
<circle cx="611" cy="232.5" r="3.6" fill="#f4a384" stroke="#1a1a1a" stroke-width="0.9"/>
<circle cx="618" cy="236.6" r="3.6" fill="#f4a384" stroke="#1a1a1a" stroke-width="0.9"/>
<circle cx="624.3" cy="240" r="3.6" fill="#f4a384" stroke="#1a1a1a" stroke-width="0.9"/>
<circle cx="630.1" cy="243" r="3.6" fill="#f4a384" stroke="#1a1a1a" stroke-width="0.9"/>
<circle cx="636.1" cy="245.8" r="3.6" fill="#f4a384" stroke="#1a1a1a" stroke-width="0.9"/>
<polyline points="467.1,229.7 474.5,227 482.5,224 490.1,221.5 498,218.9 506.1,216.7 514.8,214.6 523.6,213.2 532.2,212.2 541,212.7 547.7,213.7 558.9,216.3 567.7,219.5 575.7,222.9 583.8,226.7 591.6,230.4 598.8,234.3 605.8,238.5 612.4,242.2 618.8,244.9 626.1,248.3" fill="none" stroke="#111" stroke-width="1.1" stroke-linejoin="round" />
<circle cx="467.1" cy="229.7" r="3.6" fill="#eb7a60" stroke="#1a1a1a" stroke-width="0.9"/>
<circle cx="474.5" cy="227" r="3.6" fill="#eb7a60" stroke="#1a1a1a" stroke-width="0.9"/>
<circle cx="482.5" cy="224" r="3.6" fill="#eb7a60" stroke="#1a1a1a" stroke-width="0.9"/>
<circle cx="490.1" cy="221.5" r="3.6" fill="#eb7a60" stroke="#1a1a1a" stroke-width="0.9"/>
<circle cx="498" cy="218.9" r="3.6" fill="#eb7a60" stroke="#1a1a1a" stroke-width="0.9"/>
<circle cx="506.1" cy="216.7" r="3.6" fill="#eb7a60" stroke="#1a1a1a" stroke-width="0.9"/>
<circle cx="514.8" cy="214.6" r="3.6" fill="#eb7a60" stroke="#1a1a1a" stroke-width="0.9"/>
<circle cx="523.6" cy="213.2" r="3.6" fill="#eb7a60" stroke="#1a1a1a" stroke-width="0.9"/>
<circle cx="532.2" cy="212.2" r="3.6" fill="#eb7a60" stroke="#1a1a1a" stroke-width="0.9"/>
<circle cx="541" cy="212.7" r="3.6" fill="#eb7a60" stroke="#1a1a1a" stroke-width="0.9"/>
<circle cx="547.7" cy="213.7" r="3.6" fill="#eb7a60" stroke="#1a1a1a" stroke-width="0.9"/>
<circle cx="558.9" cy="216.3" r="3.6" fill="#eb7a60" stroke="#1a1a1a" stroke-width="0.9"/>
<circle cx="567.7" cy="219.5" r="3.6" fill="#eb7a60" stroke="#1a1a1a" stroke-width="0.9"/>
<circle cx="575.7" cy="222.9" r="3.6" fill="#eb7a60" stroke="#1a1a1a" stroke-width="0.9"/>
<circle cx="583.8" cy="226.7" r="3.6" fill="#eb7a60" stroke="#1a1a1a" stroke-width="0.9"/>
<circle cx="591.6" cy="230.4" r="3.6" fill="#eb7a60" stroke="#1a1a1a" stroke-width="0.9"/>
<circle cx="598.8" cy="234.3" r="3.6" fill="#eb7a60" stroke="#1a1a1a" stroke-width="0.9"/>
<circle cx="605.8" cy="238.5" r="3.6" fill="#eb7a60" stroke="#1a1a1a" stroke-width="0.9"/>
<circle cx="612.4" cy="242.2" r="3.6" fill="#eb7a60" stroke="#1a1a1a" stroke-width="0.9"/>
<circle cx="618.8" cy="244.9" r="3.6" fill="#eb7a60" stroke="#1a1a1a" stroke-width="0.9"/>
<circle cx="626.1" cy="248.3" r="3.6" fill="#eb7a60" stroke="#1a1a1a" stroke-width="0.9"/>
<polyline points="458.8,149.9 467.7,147.7 476.8,145.5 485.9,142.6 494.8,140.8 503.9,138.9 513.1,136.8 521.8,134.2 530.9,134 540.4,133.6 547.9,133.9 557.6,137.8 566.8,141.3 575.9,145.6 585,150 594,156.2 602.7,161.1 611.8,165.1 620.9,169.8 629.8,173.1 639,176.9" fill="none" stroke="#111" stroke-width="1.1" stroke-linejoin="round" />
<circle cx="458.8" cy="149.9" r="3.6" fill="#d85444" stroke="#1a1a1a" stroke-width="0.9"/>
<circle cx="467.7" cy="147.7" r="3.6" fill="#d85444" stroke="#1a1a1a" stroke-width="0.9"/>
<circle cx="476.8" cy="145.5" r="3.6" fill="#d85444" stroke="#1a1a1a" stroke-width="0.9"/>
<circle cx="485.9" cy="142.6" r="3.6" fill="#d85444" stroke="#1a1a1a" stroke-width="0.9"/>
<circle cx="494.8" cy="140.8" r="3.6" fill="#d85444" stroke="#1a1a1a" stroke-width="0.9"/>
<circle cx="503.9" cy="138.9" r="3.6" fill="#d85444" stroke="#1a1a1a" stroke-width="0.9"/>
<circle cx="513.1" cy="136.8" r="3.6" fill="#d85444" stroke="#1a1a1a" stroke-width="0.9"/>
<circle cx="521.8" cy="134.2" r="3.6" fill="#d85444" stroke="#1a1a1a" stroke-width="0.9"/>
<circle cx="530.9" cy="134" r="3.6" fill="#d85444" stroke="#1a1a1a" stroke-width="0.9"/>
<circle cx="540.4" cy="133.6" r="3.6" fill="#d85444" stroke="#1a1a1a" stroke-width="0.9"/>
<circle cx="547.9" cy="133.9" r="3.6" fill="#d85444" stroke="#1a1a1a" stroke-width="0.9"/>
<circle cx="557.6" cy="137.8" r="3.6" fill="#d85444" stroke="#1a1a1a" stroke-width="0.9"/>
<circle cx="566.8" cy="141.3" r="3.6" fill="#d85444" stroke="#1a1a1a" stroke-width="0.9"/>
<circle cx="575.9" cy="145.6" r="3.6" fill="#d85444" stroke="#1a1a1a" stroke-width="0.9"/>
<circle cx="585" cy="150" r="3.6" fill="#d85444" stroke="#1a1a1a" stroke-width="0.9"/>
<circle cx="594" cy="156.2" r="3.6" fill="#d85444" stroke="#1a1a1a" stroke-width="0.9"/>
<circle cx="602.7" cy="161.1" r="3.6" fill="#d85444" stroke="#1a1a1a" stroke-width="0.9"/>
<circle cx="611.8" cy="165.1" r="3.6" fill="#d85444" stroke="#1a1a1a" stroke-width="0.9"/>
<circle cx="620.9" cy="169.8" r="3.6" fill="#d85444" stroke="#1a1a1a" stroke-width="0.9"/>
<circle cx="629.8" cy="173.1" r="3.6" fill="#d85444" stroke="#1a1a1a" stroke-width="0.9"/>
<circle cx="639" cy="176.9" r="3.6" fill="#d85444" stroke="#1a1a1a" stroke-width="0.9"/>
<line x1="424.8" y1="47.5" x2="455.2" y2="47.5" stroke="#3c3c3c" stroke-width="1.5" />
<circle cx="440" cy="47.5" r="3.6" fill="#a9c6f7" stroke="#1a1a1a" stroke-width="1.0"/>
<text id="lb0" transform="translate(466.83,52.8) scale(0.9428,1)" font-size="14.6" text-anchor="start" fill="#000">LSCF</text>
<line x1="424.8" y1="68.9" x2="455.2" y2="68.9" stroke="#3c3c3c" stroke-width="1.5" />
<circle cx="440" cy="68.9" r="3.6" fill="#f5c6ae" stroke="#1a1a1a" stroke-width="1.0"/>
<text id="lb1" transform="translate(467.6,74.2) scale(1.1054,1)" font-size="14.6" text-anchor="start" fill="#000">1 nm</text>
<line x1="424.8" y1="90.3" x2="455.2" y2="90.3" stroke="#3c3c3c" stroke-width="1.5" />
<circle cx="440" cy="90.3" r="3.6" fill="#f4a384" stroke="#1a1a1a" stroke-width="1.0"/>
<text id="lb2" transform="translate(467.67,95.6) scale(1.1035,1)" font-size="14.6" text-anchor="start" fill="#000">5 nm</text>
<line x1="533" y1="47.5" x2="562.8" y2="47.5" stroke="#3c3c3c" stroke-width="1.5" />
<circle cx="547.8" cy="47.5" r="3.6" fill="#eb7a60" stroke="#1a1a1a" stroke-width="1.0"/>
<text id="lb3" transform="translate(574.42,52.8) scale(1.1496,1)" font-size="14.6" text-anchor="start" fill="#000">10 nm</text>
<line x1="533" y1="68.9" x2="562.8" y2="68.9" stroke="#3c3c3c" stroke-width="1.5" />
<circle cx="547.8" cy="68.9" r="3.6" fill="#d85444" stroke="#1a1a1a" stroke-width="1.0"/>
<text id="lb4" transform="translate(574.52,74.2) scale(1.0445,1)" font-size="14.6" text-anchor="start" fill="#000">PrO<tspan style="font-style:italic" font-size="10.5" dy="3.2">x</tspan></text>
<text id="pc" transform="translate(-0.25,330.6) scale(1.0213,1)" font-size="16.5" text-anchor="start" fill="#000">(c)</text>
<rect x="62.5" y="343.5" width="264.5" height="250" fill="none" stroke="#404040" stroke-width="1.0" />
<line x1="59.5" y1="593.5" x2="62.5" y2="593.5" stroke="#404040" stroke-width="1.0" />
<line x1="60.7" y1="568.41" x2="62.5" y2="568.41" stroke="#404040" stroke-width="0.8" />
<line x1="60.7" y1="553.74" x2="62.5" y2="553.74" stroke="#404040" stroke-width="0.8" />
<line x1="60.7" y1="543.33" x2="62.5" y2="543.33" stroke="#404040" stroke-width="0.8" />
<line x1="60.7" y1="535.25" x2="62.5" y2="535.25" stroke="#404040" stroke-width="0.8" />
<line x1="60.7" y1="528.65" x2="62.5" y2="528.65" stroke="#404040" stroke-width="0.8" />
<line x1="60.7" y1="523.08" x2="62.5" y2="523.08" stroke="#404040" stroke-width="0.8" />
<line x1="60.7" y1="518.24" x2="62.5" y2="518.24" stroke="#404040" stroke-width="0.8" />
<line x1="60.7" y1="513.98" x2="62.5" y2="513.98" stroke="#404040" stroke-width="0.8" />
<line x1="59.5" y1="510.17" x2="62.5" y2="510.17" stroke="#404040" stroke-width="1.0" />
<line x1="60.7" y1="485.08" x2="62.5" y2="485.08" stroke="#404040" stroke-width="0.8" />
<line x1="60.7" y1="470.41" x2="62.5" y2="470.41" stroke="#404040" stroke-width="0.8" />
<line x1="60.7" y1="460" x2="62.5" y2="460" stroke="#404040" stroke-width="0.8" />
<line x1="60.7" y1="451.92" x2="62.5" y2="451.92" stroke="#404040" stroke-width="0.8" />
<line x1="60.7" y1="445.32" x2="62.5" y2="445.32" stroke="#404040" stroke-width="0.8" />
<line x1="60.7" y1="439.74" x2="62.5" y2="439.74" stroke="#404040" stroke-width="0.8" />
<line x1="60.7" y1="434.91" x2="62.5" y2="434.91" stroke="#404040" stroke-width="0.8" />
<line x1="60.7" y1="430.65" x2="62.5" y2="430.65" stroke="#404040" stroke-width="0.8" />
<line x1="59.5" y1="426.83" x2="62.5" y2="426.83" stroke="#404040" stroke-width="1.0" />
<line x1="60.7" y1="401.75" x2="62.5" y2="401.75" stroke="#404040" stroke-width="0.8" />
<line x1="60.7" y1="387.07" x2="62.5" y2="387.07" stroke="#404040" stroke-width="0.8" />
<line x1="60.7" y1="376.66" x2="62.5" y2="376.66" stroke="#404040" stroke-width="0.8" />
<line x1="60.7" y1="368.59" x2="62.5" y2="368.59" stroke="#404040" stroke-width="0.8" />
<line x1="60.7" y1="361.99" x2="62.5" y2="361.99" stroke="#404040" stroke-width="0.8" />
<line x1="60.7" y1="356.41" x2="62.5" y2="356.41" stroke="#404040" stroke-width="0.8" />
<line x1="60.7" y1="351.58" x2="62.5" y2="351.58" stroke="#404040" stroke-width="0.8" />
<line x1="60.7" y1="347.31" x2="62.5" y2="347.31" stroke="#404040" stroke-width="0.8" />
<line x1="59.5" y1="343.5" x2="62.5" y2="343.5" stroke="#404040" stroke-width="1.0" />
<line x1="80" y1="593.5" x2="80" y2="596" stroke="#404040" stroke-width="1.0" />
<line x1="148.5" y1="593.5" x2="148.5" y2="596" stroke="#404040" stroke-width="1.0" />
<line x1="217" y1="593.5" x2="217" y2="596" stroke="#404040" stroke-width="1.0" />
<line x1="285.5" y1="593.5" x2="285.5" y2="596" stroke="#404040" stroke-width="1.0" />
<text id="yc2" transform="translate(57.3,599.3) scale(1.0200,1)" font-size="16.5" text-anchor="end" fill="#000">10<tspan font-size="10.8" dy="-5.4">2</tspan></text>
<text id="yc3" transform="translate(57.3,515.97) scale(1.0200,1)" font-size="16.5" text-anchor="end" fill="#000">10<tspan font-size="10.8" dy="-5.4">3</tspan></text>
<text id="yc4" transform="translate(57.3,432.63) scale(1.0200,1)" font-size="16.5" text-anchor="end" fill="#000">10<tspan font-size="10.8" dy="-5.4">4</tspan></text>
<text id="yc5" transform="translate(57.3,349.3) scale(1.0200,1)" font-size="16.5" text-anchor="end" fill="#000">10<tspan font-size="10.8" dy="-5.4">5</tspan></text>
<text id="xc-0.4" transform="translate(80,608.9) scale(1.0700,1)" font-size="15.7" text-anchor="middle" fill="#000">−0.4</text>
<text id="xc-0.2" transform="translate(148.5,608.9) scale(1.0700,1)" font-size="15.7" text-anchor="middle" fill="#000">−0.2</text>
<text id="xc0" transform="translate(217,608.9) scale(1.0700,1)" font-size="15.7" text-anchor="middle" fill="#000">0.0</text>
<text id="xc0.2" transform="translate(285.5,608.9) scale(1.0700,1)" font-size="15.7" text-anchor="middle" fill="#000">0.2</text>
<text id="xlab_c" transform="translate(41.38,625.1) scale(0.9977,1)" font-size="16.2" text-anchor="start" fill="#000">Oxygen chemical potential vs. 1 bar (eV)</text>
<text id="ylab_c" transform="translate(26.3,468.7) rotate(-90) scale(1.0257,1)" font-size="16" text-anchor="middle" fill="#000">Log C<tspan font-size="10.8" style="font-style:italic" dy="3.2">chem</tspan><tspan dy="-3.2">/V</tspan><tspan font-size="10.8" style="font-style:italic" dy="3.2">film</tspan><tspan dy="-3.2"> (F·cm</tspan><tspan font-size="10.8" dy="-5.5"> − 3</tspan><tspan dy="5.5">)</tspan></text>
<polyline points="95.85,524.6 105.83,521.5 115.91,518.1 125.9,517.1 136.17,516.8 146.45,519 157.31,522.5 167.78,525 178.35,529.4 189.31,534.5 201.73,537.4 210.74,541.1 221.5,543.5 232.17,546.4 242.93,550.1 253.6,553.7 263.58,558.1 273.46,560.5 282.96,565 292.35,567.2 301.74,570.9" fill="none" stroke="#111" stroke-width="1.1" stroke-linejoin="round" />
<circle cx="95.85" cy="524.6" r="3.6" fill="#a9c6f7" stroke="#1a1a1a" stroke-width="0.9"/>
<circle cx="105.83" cy="521.5" r="3.6" fill="#a9c6f7" stroke="#1a1a1a" stroke-width="0.9"/>
<circle cx="115.91" cy="518.1" r="3.6" fill="#a9c6f7" stroke="#1a1a1a" stroke-width="0.9"/>
<circle cx="125.9" cy="517.1" r="3.6" fill="#a9c6f7" stroke="#1a1a1a" stroke-width="0.9"/>
<circle cx="136.17" cy="516.8" r="3.6" fill="#a9c6f7" stroke="#1a1a1a" stroke-width="0.9"/>
<circle cx="146.45" cy="519" r="3.6" fill="#a9c6f7" stroke="#1a1a1a" stroke-width="0.9"/>
<circle cx="157.31" cy="522.5" r="3.6" fill="#a9c6f7" stroke="#1a1a1a" stroke-width="0.9"/>
<circle cx="167.78" cy="525" r="3.6" fill="#a9c6f7" stroke="#1a1a1a" stroke-width="0.9"/>
<circle cx="178.35" cy="529.4" r="3.6" fill="#a9c6f7" stroke="#1a1a1a" stroke-width="0.9"/>
<circle cx="189.31" cy="534.5" r="3.6" fill="#a9c6f7" stroke="#1a1a1a" stroke-width="0.9"/>
<circle cx="201.73" cy="537.4" r="3.6" fill="#a9c6f7" stroke="#1a1a1a" stroke-width="0.9"/>
<circle cx="210.74" cy="541.1" r="3.6" fill="#a9c6f7" stroke="#1a1a1a" stroke-width="0.9"/>
<circle cx="221.5" cy="543.5" r="3.6" fill="#a9c6f7" stroke="#1a1a1a" stroke-width="0.9"/>
<circle cx="232.17" cy="546.4" r="3.6" fill="#a9c6f7" stroke="#1a1a1a" stroke-width="0.9"/>
<circle cx="242.93" cy="550.1" r="3.6" fill="#a9c6f7" stroke="#1a1a1a" stroke-width="0.9"/>
<circle cx="253.6" cy="553.7" r="3.6" fill="#a9c6f7" stroke="#1a1a1a" stroke-width="0.9"/>
<circle cx="263.58" cy="558.1" r="3.6" fill="#a9c6f7" stroke="#1a1a1a" stroke-width="0.9"/>
<circle cx="273.46" cy="560.5" r="3.6" fill="#a9c6f7" stroke="#1a1a1a" stroke-width="0.9"/>
<circle cx="282.96" cy="565" r="3.6" fill="#a9c6f7" stroke="#1a1a1a" stroke-width="0.9"/>
<circle cx="292.35" cy="567.2" r="3.6" fill="#a9c6f7" stroke="#1a1a1a" stroke-width="0.9"/>
<circle cx="301.74" cy="570.9" r="3.6" fill="#a9c6f7" stroke="#1a1a1a" stroke-width="0.9"/>
<polyline points="86.65,524 97.42,522.5 108.48,518.1 119.63,518 130.69,518.5 141.55,519.5 152.41,520.7 163.28,522.1 174.33,524.7 185.29,529.7 194.79,533.8 206.92,536.7 216.9,538.6 227.67,541.3 237.55,544.2 247.63,548.2 256.93,552.6 266.52,554.9 275.62,558.1 284.03,560.5 291.86,562.8" fill="none" stroke="#111" stroke-width="1.1" stroke-linejoin="round" />
<circle cx="86.65" cy="524" r="3.6" fill="#e6d6cc" stroke="#1a1a1a" stroke-width="0.9"/>
<circle cx="97.42" cy="522.5" r="3.6" fill="#e6d6cc" stroke="#1a1a1a" stroke-width="0.9"/>
<circle cx="108.48" cy="518.1" r="3.6" fill="#e6d6cc" stroke="#1a1a1a" stroke-width="0.9"/>
<circle cx="119.63" cy="518" r="3.6" fill="#e6d6cc" stroke="#1a1a1a" stroke-width="0.9"/>
<circle cx="130.69" cy="518.5" r="3.6" fill="#e6d6cc" stroke="#1a1a1a" stroke-width="0.9"/>
<circle cx="141.55" cy="519.5" r="3.6" fill="#e6d6cc" stroke="#1a1a1a" stroke-width="0.9"/>
<circle cx="152.41" cy="520.7" r="3.6" fill="#e6d6cc" stroke="#1a1a1a" stroke-width="0.9"/>
<circle cx="163.28" cy="522.1" r="3.6" fill="#e6d6cc" stroke="#1a1a1a" stroke-width="0.9"/>
<circle cx="174.33" cy="524.7" r="3.6" fill="#e6d6cc" stroke="#1a1a1a" stroke-width="0.9"/>
<circle cx="185.29" cy="529.7" r="3.6" fill="#e6d6cc" stroke="#1a1a1a" stroke-width="0.9"/>
<circle cx="194.79" cy="533.8" r="3.6" fill="#e6d6cc" stroke="#1a1a1a" stroke-width="0.9"/>
<circle cx="206.92" cy="536.7" r="3.6" fill="#e6d6cc" stroke="#1a1a1a" stroke-width="0.9"/>
<circle cx="216.9" cy="538.6" r="3.6" fill="#e6d6cc" stroke="#1a1a1a" stroke-width="0.9"/>
<circle cx="227.67" cy="541.3" r="3.6" fill="#e6d6cc" stroke="#1a1a1a" stroke-width="0.9"/>
<circle cx="237.55" cy="544.2" r="3.6" fill="#e6d6cc" stroke="#1a1a1a" stroke-width="0.9"/>
<circle cx="247.63" cy="548.2" r="3.6" fill="#e6d6cc" stroke="#1a1a1a" stroke-width="0.9"/>
<circle cx="256.93" cy="552.6" r="3.6" fill="#e6d6cc" stroke="#1a1a1a" stroke-width="0.9"/>
<circle cx="266.52" cy="554.9" r="3.6" fill="#e6d6cc" stroke="#1a1a1a" stroke-width="0.9"/>
<circle cx="275.62" cy="558.1" r="3.6" fill="#e6d6cc" stroke="#1a1a1a" stroke-width="0.9"/>
<circle cx="284.03" cy="560.5" r="3.6" fill="#e6d6cc" stroke="#1a1a1a" stroke-width="0.9"/>
<circle cx="291.86" cy="562.8" r="3.6" fill="#e6d6cc" stroke="#1a1a1a" stroke-width="0.9"/>
<polyline points="103.88,524.8 111.71,522.7 119.73,519.6 128.15,518.1 136.86,518.8 146.05,517.5 155.55,517.5 165.14,517.4 176.19,513.6 186.86,519.9 195.08,524.3 207.9,525.8 217.59,526.5 228.06,528.2 238.24,530.9 248.31,533.3 256.73,535 263.58,535.9 269.75,537.2 275.42,538.7 281.29,539.3" fill="none" stroke="#111" stroke-width="1.1" stroke-linejoin="round" />
<circle cx="103.88" cy="524.8" r="3.6" fill="#f5c2a7" stroke="#1a1a1a" stroke-width="0.9"/>
<circle cx="111.71" cy="522.7" r="3.6" fill="#f5c2a7" stroke="#1a1a1a" stroke-width="0.9"/>
<circle cx="119.73" cy="519.6" r="3.6" fill="#f5c2a7" stroke="#1a1a1a" stroke-width="0.9"/>
<circle cx="128.15" cy="518.1" r="3.6" fill="#f5c2a7" stroke="#1a1a1a" stroke-width="0.9"/>
<circle cx="136.86" cy="518.8" r="3.6" fill="#f5c2a7" stroke="#1a1a1a" stroke-width="0.9"/>
<circle cx="146.05" cy="517.5" r="3.6" fill="#f5c2a7" stroke="#1a1a1a" stroke-width="0.9"/>
<circle cx="155.55" cy="517.5" r="3.6" fill="#f5c2a7" stroke="#1a1a1a" stroke-width="0.9"/>
<circle cx="165.14" cy="517.4" r="3.6" fill="#f5c2a7" stroke="#1a1a1a" stroke-width="0.9"/>
<circle cx="176.19" cy="513.6" r="3.6" fill="#f5c2a7" stroke="#1a1a1a" stroke-width="0.9"/>
<circle cx="186.86" cy="519.9" r="3.6" fill="#f5c2a7" stroke="#1a1a1a" stroke-width="0.9"/>
<circle cx="195.08" cy="524.3" r="3.6" fill="#f5c2a7" stroke="#1a1a1a" stroke-width="0.9"/>
<circle cx="207.9" cy="525.8" r="3.6" fill="#f5c2a7" stroke="#1a1a1a" stroke-width="0.9"/>
<circle cx="217.59" cy="526.5" r="3.6" fill="#f5c2a7" stroke="#1a1a1a" stroke-width="0.9"/>
<circle cx="228.06" cy="528.2" r="3.6" fill="#f5c2a7" stroke="#1a1a1a" stroke-width="0.9"/>
<circle cx="238.24" cy="530.9" r="3.6" fill="#f5c2a7" stroke="#1a1a1a" stroke-width="0.9"/>
<circle cx="248.31" cy="533.3" r="3.6" fill="#f5c2a7" stroke="#1a1a1a" stroke-width="0.9"/>
<circle cx="256.73" cy="535" r="3.6" fill="#f5c2a7" stroke="#1a1a1a" stroke-width="0.9"/>
<circle cx="263.58" cy="535.9" r="3.6" fill="#f5c2a7" stroke="#1a1a1a" stroke-width="0.9"/>
<circle cx="269.75" cy="537.2" r="3.6" fill="#f5c2a7" stroke="#1a1a1a" stroke-width="0.9"/>
<circle cx="275.42" cy="538.7" r="3.6" fill="#f5c2a7" stroke="#1a1a1a" stroke-width="0.9"/>
<circle cx="281.29" cy="539.3" r="3.6" fill="#f5c2a7" stroke="#1a1a1a" stroke-width="0.9"/>
<polyline points="115.91,526 123.16,525 130.98,520.8 138.42,520.1 146.15,519 154.08,517.4 162.59,516.5 171.2,512.6 179.62,504.6 188.23,508.7 194.79,518 205.75,518 214.36,518 222.19,518.2 230.11,519.3 237.75,520.1 244.79,521.9 251.64,522.6 258.1,522.9 264.36,523.1 271.51,523.4" fill="none" stroke="#111" stroke-width="1.1" stroke-linejoin="round" />
<circle cx="115.91" cy="526" r="3.6" fill="#f4a384" stroke="#1a1a1a" stroke-width="0.9"/>
<circle cx="123.16" cy="525" r="3.6" fill="#f4a384" stroke="#1a1a1a" stroke-width="0.9"/>
<circle cx="130.98" cy="520.8" r="3.6" fill="#f4a384" stroke="#1a1a1a" stroke-width="0.9"/>
<circle cx="138.42" cy="520.1" r="3.6" fill="#f4a384" stroke="#1a1a1a" stroke-width="0.9"/>
<circle cx="146.15" cy="519" r="3.6" fill="#f4a384" stroke="#1a1a1a" stroke-width="0.9"/>
<circle cx="154.08" cy="517.4" r="3.6" fill="#f4a384" stroke="#1a1a1a" stroke-width="0.9"/>
<circle cx="162.59" cy="516.5" r="3.6" fill="#f4a384" stroke="#1a1a1a" stroke-width="0.9"/>
<circle cx="171.2" cy="512.6" r="3.6" fill="#f4a384" stroke="#1a1a1a" stroke-width="0.9"/>
<circle cx="179.62" cy="504.6" r="3.6" fill="#f4a384" stroke="#1a1a1a" stroke-width="0.9"/>
<circle cx="188.23" cy="508.7" r="3.6" fill="#f4a384" stroke="#1a1a1a" stroke-width="0.9"/>
<circle cx="194.79" cy="518" r="3.6" fill="#f4a384" stroke="#1a1a1a" stroke-width="0.9"/>
<circle cx="205.75" cy="518" r="3.6" fill="#f4a384" stroke="#1a1a1a" stroke-width="0.9"/>
<circle cx="214.36" cy="518" r="3.6" fill="#f4a384" stroke="#1a1a1a" stroke-width="0.9"/>
<circle cx="222.19" cy="518.2" r="3.6" fill="#f4a384" stroke="#1a1a1a" stroke-width="0.9"/>
<circle cx="230.11" cy="519.3" r="3.6" fill="#f4a384" stroke="#1a1a1a" stroke-width="0.9"/>
<circle cx="237.75" cy="520.1" r="3.6" fill="#f4a384" stroke="#1a1a1a" stroke-width="0.9"/>
<circle cx="244.79" cy="521.9" r="3.6" fill="#f4a384" stroke="#1a1a1a" stroke-width="0.9"/>
<circle cx="251.64" cy="522.6" r="3.6" fill="#f4a384" stroke="#1a1a1a" stroke-width="0.9"/>
<circle cx="258.1" cy="522.9" r="3.6" fill="#f4a384" stroke="#1a1a1a" stroke-width="0.9"/>
<circle cx="264.36" cy="523.1" r="3.6" fill="#f4a384" stroke="#1a1a1a" stroke-width="0.9"/>
<circle cx="271.51" cy="523.4" r="3.6" fill="#f4a384" stroke="#1a1a1a" stroke-width="0.9"/>
<polyline points="107.79,545 116.5,541.8 125.41,535.5 134.31,528 143.02,516.6 151.93,504 160.93,483.7 169.44,465.5 178.35,437.1 187.64,444.3 194.98,457.6 204.47,455.1 213.48,452.6 222.38,450 231.29,449.4 240.09,449.4 248.61,448.8 257.51,448.1 266.42,447.9 275.13,446.9 284.13,446.2" fill="none" stroke="#111" stroke-width="1.1" stroke-linejoin="round" />
<circle cx="107.79" cy="545" r="3.6" fill="#d85444" stroke="#1a1a1a" stroke-width="0.9"/>
<circle cx="116.5" cy="541.8" r="3.6" fill="#d85444" stroke="#1a1a1a" stroke-width="0.9"/>
<circle cx="125.41" cy="535.5" r="3.6" fill="#d85444" stroke="#1a1a1a" stroke-width="0.9"/>
<circle cx="134.31" cy="528" r="3.6" fill="#d85444" stroke="#1a1a1a" stroke-width="0.9"/>
<circle cx="143.02" cy="516.6" r="3.6" fill="#d85444" stroke="#1a1a1a" stroke-width="0.9"/>
<circle cx="151.93" cy="504" r="3.6" fill="#d85444" stroke="#1a1a1a" stroke-width="0.9"/>
<circle cx="160.93" cy="483.7" r="3.6" fill="#d85444" stroke="#1a1a1a" stroke-width="0.9"/>
<circle cx="169.44" cy="465.5" r="3.6" fill="#d85444" stroke="#1a1a1a" stroke-width="0.9"/>
<circle cx="178.35" cy="437.1" r="3.6" fill="#d85444" stroke="#1a1a1a" stroke-width="0.9"/>
<circle cx="187.64" cy="444.3" r="3.6" fill="#d85444" stroke="#1a1a1a" stroke-width="0.9"/>
<circle cx="194.98" cy="457.6" r="3.6" fill="#d85444" stroke="#1a1a1a" stroke-width="0.9"/>
<circle cx="204.47" cy="455.1" r="3.6" fill="#d85444" stroke="#1a1a1a" stroke-width="0.9"/>
<circle cx="213.48" cy="452.6" r="3.6" fill="#d85444" stroke="#1a1a1a" stroke-width="0.9"/>
<circle cx="222.38" cy="450" r="3.6" fill="#d85444" stroke="#1a1a1a" stroke-width="0.9"/>
<circle cx="231.29" cy="449.4" r="3.6" fill="#d85444" stroke="#1a1a1a" stroke-width="0.9"/>
<circle cx="240.09" cy="449.4" r="3.6" fill="#d85444" stroke="#1a1a1a" stroke-width="0.9"/>
<circle cx="248.61" cy="448.8" r="3.6" fill="#d85444" stroke="#1a1a1a" stroke-width="0.9"/>
<circle cx="257.51" cy="448.1" r="3.6" fill="#d85444" stroke="#1a1a1a" stroke-width="0.9"/>
<circle cx="266.42" cy="447.9" r="3.6" fill="#d85444" stroke="#1a1a1a" stroke-width="0.9"/>
<circle cx="275.13" cy="446.9" r="3.6" fill="#d85444" stroke="#1a1a1a" stroke-width="0.9"/>
<circle cx="284.13" cy="446.2" r="3.6" fill="#d85444" stroke="#1a1a1a" stroke-width="0.9"/>
<line x1="74.9" y1="361.9" x2="104.5" y2="361.9" stroke="#3c3c3c" stroke-width="1.5" />
<circle cx="89.5" cy="361.9" r="3.6" fill="#a9c6f7" stroke="#1a1a1a" stroke-width="1.0"/>
<text id="lc0" transform="translate(114.86,367.2) scale(0.9267,1)" font-size="14.6" text-anchor="start" fill="#000">LSCF</text>
<line x1="74.9" y1="382.6" x2="104.5" y2="382.6" stroke="#3c3c3c" stroke-width="1.5" />
<circle cx="89.5" cy="382.6" r="3.6" fill="#e6d6cc" stroke="#1a1a1a" stroke-width="1.0"/>
<text id="lc1" transform="translate(114.72,387.9) scale(1.1424,1)" font-size="14.6" text-anchor="start" fill="#000">1 nm</text>
<line x1="74.9" y1="403.4" x2="104.5" y2="403.4" stroke="#3c3c3c" stroke-width="1.5" />
<circle cx="89.5" cy="403.4" r="3.6" fill="#f5c2a7" stroke="#1a1a1a" stroke-width="1.0"/>
<text id="lc2" transform="translate(114.7,408.7) scale(1.1433,1)" font-size="14.6" text-anchor="start" fill="#000">5 nm</text>
<line x1="180.1" y1="361.9" x2="209.7" y2="361.9" stroke="#3c3c3c" stroke-width="1.5" />
<circle cx="194.7" cy="361.9" r="3.6" fill="#f4a384" stroke="#1a1a1a" stroke-width="1.0"/>
<text id="lc3" transform="translate(220.51,367.2) scale(1.1145,1)" font-size="14.6" text-anchor="start" fill="#000">10 nm</text>
<line x1="180.1" y1="382.6" x2="209.7" y2="382.6" stroke="#3c3c3c" stroke-width="1.5" />
<circle cx="194.7" cy="382.6" r="3.6" fill="#d85444" stroke="#1a1a1a" stroke-width="1.0"/>
<text id="lc4" transform="translate(220.52,387.9) scale(0.9925,1)" font-size="14.6" text-anchor="start" fill="#000">PrO<tspan style="font-style:italic" font-size="10.5" dy="3.2">x</tspan></text>
<text id="pd" transform="translate(356.44,331) scale(1.1353,1)" font-size="16.5" text-anchor="start" fill="#000">(d)</text>
<rect x="412" y="342.5" width="258.25" height="81" fill="none" stroke="#404040" stroke-width="1.0" />
<line x1="410.2" y1="423.11" x2="412" y2="423.11" stroke="#404040" stroke-width="0.8" />
<line x1="410.2" y1="420.15" x2="412" y2="420.15" stroke="#404040" stroke-width="0.8" />
<line x1="409" y1="417.5" x2="412" y2="417.5" stroke="#404040" stroke-width="1.0" />
<line x1="410.2" y1="400.07" x2="412" y2="400.07" stroke="#404040" stroke-width="0.8" />
<line x1="410.2" y1="389.87" x2="412" y2="389.87" stroke="#404040" stroke-width="0.8" />
<line x1="410.2" y1="382.64" x2="412" y2="382.64" stroke="#404040" stroke-width="0.8" />
<line x1="410.2" y1="377.03" x2="412" y2="377.03" stroke="#404040" stroke-width="0.8" />
<line x1="410.2" y1="372.45" x2="412" y2="372.45" stroke="#404040" stroke-width="0.8" />
<line x1="410.2" y1="368.57" x2="412" y2="368.57" stroke="#404040" stroke-width="0.8" />
<line x1="410.2" y1="365.21" x2="412" y2="365.21" stroke="#404040" stroke-width="0.8" />
<line x1="410.2" y1="362.25" x2="412" y2="362.25" stroke="#404040" stroke-width="0.8" />
<line x1="409" y1="359.6" x2="412" y2="359.6" stroke="#404040" stroke-width="1.0" />
<line x1="428.1" y1="423.5" x2="428.1" y2="426" stroke="#404040" stroke-width="1.0" />
<line x1="495.4" y1="423.5" x2="495.4" y2="426" stroke="#404040" stroke-width="1.0" />
<line x1="562.7" y1="423.5" x2="562.7" y2="426" stroke="#404040" stroke-width="1.0" />
<line x1="630" y1="423.5" x2="630" y2="426" stroke="#404040" stroke-width="1.0" />
<text id="yd03" transform="translate(407.2,365) scale(1.0200,1)" font-size="15.4" text-anchor="end" fill="#000">10<tspan font-size="10.6" dy="-5.1">3</tspan></text>
<text id="yd02" transform="translate(407.2,422.9) scale(1.0200,1)" font-size="15.4" text-anchor="end" fill="#000">10<tspan font-size="10.6" dy="-5.1">2</tspan></text>
<rect x="412" y="427.5" width="258.25" height="81" fill="none" stroke="#404040" stroke-width="1.0" />
<line x1="410.2" y1="508.02" x2="412" y2="508.02" stroke="#404040" stroke-width="0.8" />
<line x1="410.2" y1="505.05" x2="412" y2="505.05" stroke="#404040" stroke-width="0.8" />
<line x1="409" y1="502.4" x2="412" y2="502.4" stroke="#404040" stroke-width="1.0" />
<line x1="410.2" y1="484.94" x2="412" y2="484.94" stroke="#404040" stroke-width="0.8" />
<line x1="410.2" y1="474.73" x2="412" y2="474.73" stroke="#404040" stroke-width="0.8" />
<line x1="410.2" y1="467.48" x2="412" y2="467.48" stroke="#404040" stroke-width="0.8" />
<line x1="410.2" y1="461.86" x2="412" y2="461.86" stroke="#404040" stroke-width="0.8" />
<line x1="410.2" y1="457.27" x2="412" y2="457.27" stroke="#404040" stroke-width="0.8" />
<line x1="410.2" y1="453.38" x2="412" y2="453.38" stroke="#404040" stroke-width="0.8" />
<line x1="410.2" y1="450.02" x2="412" y2="450.02" stroke="#404040" stroke-width="0.8" />
<line x1="410.2" y1="447.05" x2="412" y2="447.05" stroke="#404040" stroke-width="0.8" />
<line x1="409" y1="444.4" x2="412" y2="444.4" stroke="#404040" stroke-width="1.0" />
<line x1="428.1" y1="508.5" x2="428.1" y2="511" stroke="#404040" stroke-width="1.0" />
<line x1="495.4" y1="508.5" x2="495.4" y2="511" stroke="#404040" stroke-width="1.0" />
<line x1="562.7" y1="508.5" x2="562.7" y2="511" stroke="#404040" stroke-width="1.0" />
<line x1="630" y1="508.5" x2="630" y2="511" stroke="#404040" stroke-width="1.0" />
<text id="yd13" transform="translate(407.2,449.8) scale(1.0200,1)" font-size="15.4" text-anchor="end" fill="#000">10<tspan font-size="10.6" dy="-5.1">3</tspan></text>
<text id="yd12" transform="translate(407.2,507.8) scale(1.0200,1)" font-size="15.4" text-anchor="end" fill="#000">10<tspan font-size="10.6" dy="-5.1">2</tspan></text>
<rect x="412" y="512.5" width="258.25" height="81" fill="none" stroke="#404040" stroke-width="1.0" />
<line x1="410.2" y1="593.34" x2="412" y2="593.34" stroke="#404040" stroke-width="0.8" />
<line x1="410.2" y1="590.36" x2="412" y2="590.36" stroke="#404040" stroke-width="0.8" />
<line x1="409" y1="587.7" x2="412" y2="587.7" stroke="#404040" stroke-width="1.0" />
<line x1="410.2" y1="570.18" x2="412" y2="570.18" stroke="#404040" stroke-width="0.8" />
<line x1="410.2" y1="559.93" x2="412" y2="559.93" stroke="#404040" stroke-width="0.8" />
<line x1="410.2" y1="552.66" x2="412" y2="552.66" stroke="#404040" stroke-width="0.8" />
<line x1="410.2" y1="547.02" x2="412" y2="547.02" stroke="#404040" stroke-width="0.8" />
<line x1="410.2" y1="542.41" x2="412" y2="542.41" stroke="#404040" stroke-width="0.8" />
<line x1="410.2" y1="538.52" x2="412" y2="538.52" stroke="#404040" stroke-width="0.8" />
<line x1="410.2" y1="535.14" x2="412" y2="535.14" stroke="#404040" stroke-width="0.8" />
<line x1="410.2" y1="532.16" x2="412" y2="532.16" stroke="#404040" stroke-width="0.8" />
<line x1="409" y1="529.5" x2="412" y2="529.5" stroke="#404040" stroke-width="1.0" />
<line x1="428.1" y1="593.5" x2="428.1" y2="596" stroke="#404040" stroke-width="1.0" />
<line x1="495.4" y1="593.5" x2="495.4" y2="596" stroke="#404040" stroke-width="1.0" />
<line x1="562.7" y1="593.5" x2="562.7" y2="596" stroke="#404040" stroke-width="1.0" />
<line x1="630" y1="593.5" x2="630" y2="596" stroke="#404040" stroke-width="1.0" />
<text id="yd23" transform="translate(407.2,534.9) scale(1.0200,1)" font-size="15.4" text-anchor="end" fill="#000">10<tspan font-size="10.6" dy="-5.1">3</tspan></text>
<text id="yd22" transform="translate(407.2,593.1) scale(1.0200,1)" font-size="15.4" text-anchor="end" fill="#000">10<tspan font-size="10.6" dy="-5.1">2</tspan></text>
<text id="xd-0.4" transform="translate(428.1,608.2) scale(1.0700,1)" font-size="15.7" text-anchor="middle" fill="#000">−0.4</text>
<text id="xd-0.2" transform="translate(495.4,608.2) scale(1.0700,1)" font-size="15.7" text-anchor="middle" fill="#000">−0.2</text>
<text id="xd0" transform="translate(562.7,608.2) scale(1.0700,1)" font-size="15.7" text-anchor="middle" fill="#000">0.0</text>
<text id="xd0.2" transform="translate(630,608.2) scale(1.0700,1)" font-size="15.7" text-anchor="middle" fill="#000">0.2</text>
<text id="xlab_d" transform="translate(388,624) scale(0.9763,1)" font-size="16.2" text-anchor="start" fill="#000">Oxygen chemical potential vs. 1 bar (eV)</text>
<text id="ylab_d" transform="translate(377,467.55) rotate(-90) scale(1.0143,1)" font-size="15.6" text-anchor="middle" fill="#000">Log C<tspan font-size="10.8" style="font-style:italic" dy="3.2">chem</tspan><tspan dy="-3.2">/V</tspan><tspan font-size="10.8" style="font-style:italic" dy="3.2">film</tspan><tspan dy="-3.2"> (F·cm</tspan><tspan font-size="10.8" dy="-5.5"> − 3</tspan><tspan dy="5.5">)</tspan></text>
<text id="t_d10" transform="translate(415.67,358.2) scale(1.0267,1)" font-size="15.4" text-anchor="start" fill="#ee7542">10 nm</text>
<text id="t_d5" transform="translate(415.03,442.8) scale(1.0604,1)" font-size="15.4" text-anchor="start" fill="#e3a487">5 nm</text>
<text id="t_d1" transform="translate(416.05,527.6) scale(1.0297,1)" font-size="15.4" text-anchor="start" fill="#9a9a9a">1 nm</text>
<circle cx="463.38" cy="370.5" r="3.5" fill="#f5a98a" stroke="#3a2620" stroke-width="1.1"/>
<circle cx="470.5" cy="369.4" r="3.5" fill="#f5a98a" stroke="#3a2620" stroke-width="1.1"/>
<circle cx="478.19" cy="366.5" r="3.5" fill="#f5a98a" stroke="#3a2620" stroke-width="1.1"/>
<circle cx="485.5" cy="366.5" r="3.5" fill="#f5a98a" stroke="#3a2620" stroke-width="1.1"/>
<circle cx="493.09" cy="364.9" r="3.5" fill="#f5a98a" stroke="#3a2620" stroke-width="1.1"/>
<circle cx="500.88" cy="364.9" r="3.5" fill="#f5a98a" stroke="#3a2620" stroke-width="1.1"/>
<circle cx="509.24" cy="363.8" r="3.5" fill="#f5a98a" stroke="#3a2620" stroke-width="1.1"/>
<circle cx="517.71" cy="360.9" r="3.5" fill="#f5a98a" stroke="#3a2620" stroke-width="1.1"/>
<circle cx="525.97" cy="355.3" r="3.5" fill="#f5a98a" stroke="#3a2620" stroke-width="1.1"/>
<circle cx="534.43" cy="358.5" r="3.5" fill="#f5a98a" stroke="#3a2620" stroke-width="1.1"/>
<circle cx="540.88" cy="364.9" r="3.5" fill="#f5a98a" stroke="#3a2620" stroke-width="1.1"/>
<circle cx="551.64" cy="365.1" r="3.5" fill="#f5a98a" stroke="#3a2620" stroke-width="1.1"/>
<circle cx="560.1" cy="365.1" r="3.5" fill="#f5a98a" stroke="#3a2620" stroke-width="1.1"/>
<circle cx="567.8" cy="365.1" r="3.5" fill="#f5a98a" stroke="#3a2620" stroke-width="1.1"/>
<circle cx="575.58" cy="365.7" r="3.5" fill="#f5a98a" stroke="#3a2620" stroke-width="1.1"/>
<circle cx="583.08" cy="366.5" r="3.5" fill="#f5a98a" stroke="#3a2620" stroke-width="1.1"/>
<circle cx="590" cy="367.6" r="3.5" fill="#f5a98a" stroke="#3a2620" stroke-width="1.1"/>
<circle cx="596.73" cy="368.1" r="3.5" fill="#f5a98a" stroke="#3a2620" stroke-width="1.1"/>
<circle cx="603.08" cy="368.4" r="3.5" fill="#f5a98a" stroke="#3a2620" stroke-width="1.1"/>
<circle cx="609.23" cy="368.4" r="3.5" fill="#f5a98a" stroke="#3a2620" stroke-width="1.1"/>
<circle cx="616.25" cy="368.6" r="3.5" fill="#f5a98a" stroke="#3a2620" stroke-width="1.1"/>
<polyline points="455.6,370.5 485,366.3 518,361 526.5,354 541,364.5 575,365.5 629,369.2" fill="none" stroke="#8e1a1a" stroke-width="2.0" stroke-linejoin="round" />
<circle cx="451.56" cy="454.6" r="3.5" fill="#f6c6ae" stroke="#3a2620" stroke-width="1.1"/>
<circle cx="459.25" cy="453.8" r="3.5" fill="#f6c6ae" stroke="#3a2620" stroke-width="1.1"/>
<circle cx="467.13" cy="450.9" r="3.5" fill="#f6c6ae" stroke="#3a2620" stroke-width="1.1"/>
<circle cx="475.4" cy="450.4" r="3.5" fill="#f6c6ae" stroke="#3a2620" stroke-width="1.1"/>
<circle cx="483.96" cy="450.4" r="3.5" fill="#f6c6ae" stroke="#3a2620" stroke-width="1.1"/>
<circle cx="493" cy="450.1" r="3.5" fill="#f6c6ae" stroke="#3a2620" stroke-width="1.1"/>
<circle cx="502.32" cy="449.6" r="3.5" fill="#f6c6ae" stroke="#3a2620" stroke-width="1.1"/>
<circle cx="511.74" cy="449.6" r="3.5" fill="#f6c6ae" stroke="#3a2620" stroke-width="1.1"/>
<circle cx="522.61" cy="446.5" r="3.5" fill="#f6c6ae" stroke="#3a2620" stroke-width="1.1"/>
<circle cx="533.09" cy="451.2" r="3.5" fill="#f6c6ae" stroke="#3a2620" stroke-width="1.1"/>
<circle cx="541.16" cy="454.1" r="3.5" fill="#f6c6ae" stroke="#3a2620" stroke-width="1.1"/>
<circle cx="553.76" cy="455.9" r="3.5" fill="#f6c6ae" stroke="#3a2620" stroke-width="1.1"/>
<circle cx="563.28" cy="456.2" r="3.5" fill="#f6c6ae" stroke="#3a2620" stroke-width="1.1"/>
<circle cx="573.56" cy="457.2" r="3.5" fill="#f6c6ae" stroke="#3a2620" stroke-width="1.1"/>
<circle cx="583.56" cy="458.8" r="3.5" fill="#f6c6ae" stroke="#3a2620" stroke-width="1.1"/>
<circle cx="593.47" cy="460.5" r="3.5" fill="#f6c6ae" stroke="#3a2620" stroke-width="1.1"/>
<circle cx="601.73" cy="461.7" r="3.5" fill="#f6c6ae" stroke="#3a2620" stroke-width="1.1"/>
<circle cx="608.46" cy="462.4" r="3.5" fill="#f6c6ae" stroke="#3a2620" stroke-width="1.1"/>
<circle cx="614.52" cy="463.5" r="3.5" fill="#f6c6ae" stroke="#3a2620" stroke-width="1.1"/>
<circle cx="620.1" cy="464.2" r="3.5" fill="#f6c6ae" stroke="#3a2620" stroke-width="1.1"/>
<circle cx="625.87" cy="464.9" r="3.5" fill="#f6c6ae" stroke="#3a2620" stroke-width="1.1"/>
<polyline points="456.9,455 468,451.5 513,449.5 523,447 541,454 629,465" fill="none" stroke="#8e1a1a" stroke-width="2.0" stroke-linejoin="round" />
<line x1="529.6" y1="539.4" x2="534.4" y2="539.4" stroke="#666" stroke-width="0.9" />
<line x1="529.6" y1="547.2" x2="534.4" y2="547.2" stroke="#666" stroke-width="0.9" />
<line x1="532" y1="539.4" x2="532" y2="547.2" stroke="#666" stroke-width="0.9" />
<line x1="538.6" y1="541.8" x2="543.4" y2="541.8" stroke="#666" stroke-width="0.9" />
<line x1="538.6" y1="549.6" x2="543.4" y2="549.6" stroke="#666" stroke-width="0.9" />
<line x1="541" y1="541.8" x2="541" y2="549.6" stroke="#666" stroke-width="0.9" />
<circle cx="435.8" cy="539.4" r="3.4" fill="#d4d4d4" stroke="#2e2e2e" stroke-width="1.0"/>
<circle cx="445.9" cy="538.4" r="3.4" fill="#d4d4d4" stroke="#2e2e2e" stroke-width="1.0"/>
<circle cx="456.8" cy="535.8" r="3.4" fill="#d4d4d4" stroke="#2e2e2e" stroke-width="1.0"/>
<circle cx="467.7" cy="535.4" r="3.4" fill="#d4d4d4" stroke="#2e2e2e" stroke-width="1.0"/>
<circle cx="478.7" cy="534.9" r="3.4" fill="#d4d4d4" stroke="#2e2e2e" stroke-width="1.0"/>
<circle cx="489.2" cy="535.9" r="3.4" fill="#d4d4d4" stroke="#2e2e2e" stroke-width="1.0"/>
<circle cx="499.7" cy="536.6" r="3.4" fill="#d4d4d4" stroke="#2e2e2e" stroke-width="1.0"/>
<circle cx="510.2" cy="537.2" r="3.4" fill="#d4d4d4" stroke="#2e2e2e" stroke-width="1.0"/>
<circle cx="521.3" cy="539.6" r="3.4" fill="#d4d4d4" stroke="#2e2e2e" stroke-width="1.0"/>
<circle cx="532" cy="543.3" r="3.4" fill="#d4d4d4" stroke="#2e2e2e" stroke-width="1.0"/>
<circle cx="541" cy="545.7" r="3.4" fill="#d4d4d4" stroke="#2e2e2e" stroke-width="1.0"/>
<circle cx="552.9" cy="547.8" r="3.4" fill="#d4d4d4" stroke="#2e2e2e" stroke-width="1.0"/>
<circle cx="562.6" cy="549.5" r="3.4" fill="#d4d4d4" stroke="#2e2e2e" stroke-width="1.0"/>
<circle cx="572.6" cy="551.3" r="3.4" fill="#d4d4d4" stroke="#2e2e2e" stroke-width="1.0"/>
<circle cx="582.7" cy="553" r="3.4" fill="#d4d4d4" stroke="#2e2e2e" stroke-width="1.0"/>
<circle cx="592.4" cy="556.2" r="3.4" fill="#d4d4d4" stroke="#2e2e2e" stroke-width="1.0"/>
<circle cx="601.5" cy="558.8" r="3.4" fill="#d4d4d4" stroke="#2e2e2e" stroke-width="1.0"/>
<circle cx="610.7" cy="560.6" r="3.4" fill="#d4d4d4" stroke="#2e2e2e" stroke-width="1.0"/>
<circle cx="619.5" cy="562.7" r="3.4" fill="#d4d4d4" stroke="#2e2e2e" stroke-width="1.0"/>
<circle cx="627.7" cy="564.4" r="3.4" fill="#d4d4d4" stroke="#2e2e2e" stroke-width="1.0"/>
<circle cx="635.6" cy="566.2" r="3.4" fill="#d4d4d4" stroke="#2e2e2e" stroke-width="1.0"/>
<polyline points="455.9,539.8 466,537.5 478,535 500,536.3 521,539.5 629.5,565.6" fill="none" stroke="#8e1a1a" stroke-width="2.0" stroke-linejoin="round" />
</svg></body></html>
